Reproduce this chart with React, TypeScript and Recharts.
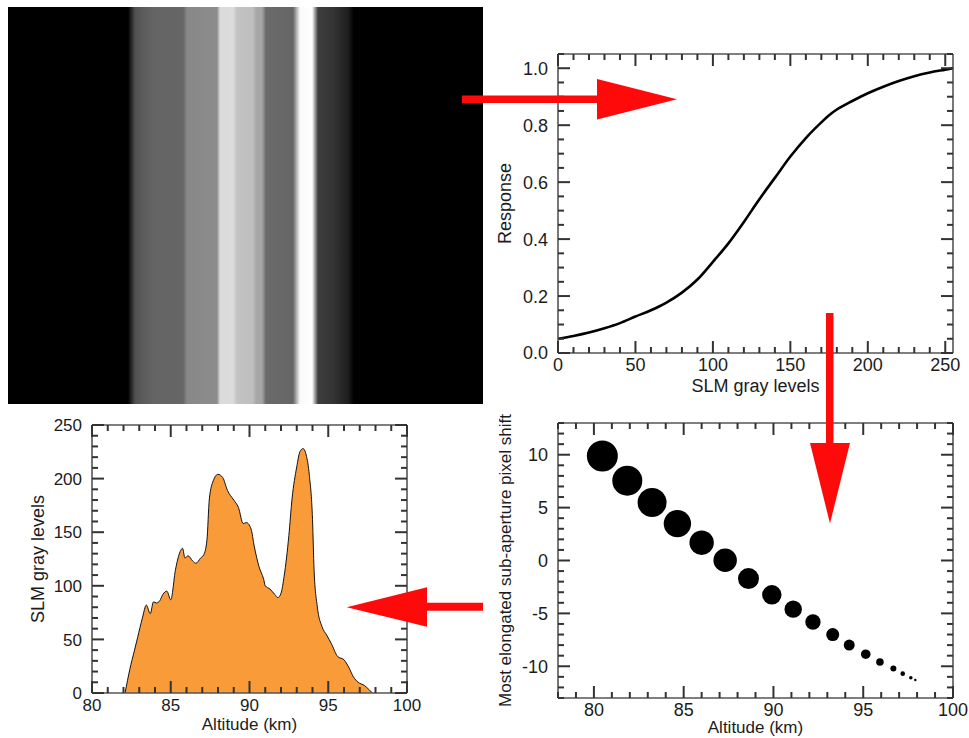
import { Area, ComposedChart, Label, Line, Scatter, XAxis, YAxis } from "recharts";

const PAGE_W = 969;
const PAGE_H = 738;
const FONT = '"Liberation Sans", Arial, Helvetica, sans-serif';
const INK = "#1c1c1c";
const FRAME = "#555";
const TICK = "#333";
const ARROW = "#ff0a0a";

// SLM pattern: column position (px across the 475 px frame) and gray level
const stripePos = [0, 120, 127, 135, 145, 175, 179, 209, 212, 225, 229, 245, 248, 254, 258, 285, 292, 304, 310, 325, 340, 346, 475];
const stripeGray = [0, 0, 80, 92, 100, 102, 136, 140, 218, 220, 195, 190, 168, 165, 106, 102, 250, 255, 62, 52, 30, 0, 0];

// SLM response curve
const grayLevels = [0, 10, 20, 30, 40, 50, 60, 70, 80, 90, 100, 110, 120, 125, 130, 140, 150, 160, 170, 175, 180, 190, 200, 210, 220, 230, 240, 250, 255];
const response = [0.05, 0.06, 0.072, 0.087, 0.105, 0.128, 0.15, 0.177, 0.212, 0.258, 0.32, 0.385, 0.46, 0.5, 0.54, 0.615, 0.69, 0.755, 0.81, 0.835, 0.855, 0.885, 0.912, 0.935, 0.955, 0.972, 0.985, 0.995, 1.0];

// SLM gray level profile vs altitude
const profileAltitude = [82.1, 82.4, 82.7, 82.9, 83.2, 83.45, 83.7, 83.9, 84.1, 84.3, 84.5, 84.75, 85.0, 85.3, 85.6, 85.75, 85.9, 86.1, 86.4, 86.6, 86.9, 87.1, 87.3, 87.45, 87.7, 88.0, 88.3, 88.6, 89.0, 89.3, 89.6, 89.8, 90.1, 90.3, 90.6, 90.9, 91.0, 91.3, 91.6, 91.8, 92.0, 92.2, 92.5, 92.7, 93.0, 93.2, 93.4, 93.6, 93.8, 94.0, 94.1, 94.3, 94.6, 94.9, 95.2, 95.6, 96.0, 96.3, 96.6, 96.9, 97.3, 97.6, 97.8];
const profileGray = [0, 22, 40, 52, 70, 82, 74, 85, 84, 86, 92, 95, 87, 115, 132, 135, 126, 128, 123, 121, 126, 129, 143, 181, 198, 204, 201, 189, 180, 173, 158, 159, 153, 137, 118, 106, 100, 97, 92, 89, 93, 109, 147, 181, 211, 225, 228, 222, 203, 162, 115, 81, 62, 54, 46, 34, 31, 24, 15, 10, 7, 3, 0];

// most elongated sub-aperture: altitude, pixel shift, spot elongation
const spotAltitude = [80.47, 81.86, 83.24, 84.65, 86.0, 87.31, 88.61, 89.91, 91.1, 92.2, 93.3, 94.22, 95.14, 95.93, 96.68, 97.2, 97.65, 97.9];
const spotShift = [9.88, 7.55, 5.49, 3.49, 1.68, 0.03, -1.71, -3.24, -4.6, -5.81, -7.0, -8.0, -8.86, -9.59, -10.22, -10.7, -11.08, -11.3];
const spotElongation = [15.5, 15, 14.5, 13.7, 12.2, 11.7, 10.5, 9.7, 8.7, 7.7, 6.5, 5.5, 4.8, 3.8, 3, 2.3, 1.8, 1.2];

const stripeData = [{ px: stripePos[0], v: 1 }, { px: stripePos[stripePos.length - 1], v: 1 }];
const responseData = grayLevels.map((level, i) => ({ level, response: response[i] }));
const profileData = profileAltitude.map((alt, i) => ({ alt, gray: profileGray[i] }));
const spotData = spotAltitude.map((alt, i) => ({ alt, shift: spotShift[i], elong: spotElongation[i] }));

const range = (a: number, b: number, step: number) => {
  const out: number[] = [];
  for (let v = a; v <= b + 1e-9; v += step) out.push(+v.toFixed(4));
  return out;
};
const isMultiple = (v: number, step: number) => Math.abs(v / step - Math.round(v / step)) < 1e-6;

type Rect = { left: number; top: number; right: number; bottom: number };
const IMAGE_RECT: Rect = { left: 8, top: 7, right: 483, bottom: 404 };
const RESPONSE_RECT: Rect = { left: 558, top: 54, right: 953, bottom: 353 };
const PROFILE_RECT: Rect = { left: 92, top: 425, right: 407, bottom: 693 };
const SPOT_RECT: Rect = { left: 558, top: 423, right: 953, bottom: 698 };

// axes take 1 px each (a zero sized axis is not drawn), so the margin gives that pixel back
const marginOf = (r: Rect, axis = 1) => ({
  left: r.left - axis,
  top: r.top - axis,
  right: PAGE_W - r.right - axis,
  bottom: PAGE_H - r.bottom - axis,
});
const layer: React.CSSProperties = { position: "absolute", left: 0, top: 0 };

function makeTickLabel(side: "bottom" | "left", major: number, fmt: (v: number) => string, fontSize: number, rect: Rect) {
  return function TickLabel(props: any) {
    const v = Number(props.payload?.value);
    if (!isMultiple(v, major)) return <g />;
    const x = Number(props.x);
    const y = Number(props.y);
    return side === "bottom" ? (
      <g>
        <text x={x} y={rect.bottom + 18} textAnchor="middle" fontSize={fontSize} fontFamily={FONT} fill={INK}>
          {fmt(v)}
        </text>
      </g>
    ) : (
      <g>
        <text x={rect.left - 10} y={y + fontSize * 0.36} textAnchor="end" fontSize={fontSize} fontFamily={FONT} fill={INK}>
          {fmt(v)}
        </text>
      </g>
    );
  };
}

type FrameOpts = {
  rect: Rect;
  xKey: string;
  xDomain: [number, number];
  yDomain: [number, number];
  xTicks: number[];
  yTicks: number[];
  xMajor: number;
  yMajor: number;
  xFmt: (v: number) => string;
  yFmt: (v: number) => string;
  tickSize: number;
  xTitle: string;
  yTitle: string;
  xGap: number;
  yGap: number;
  xTitleSize: number;
  yTitleSize: number;
};

function frameAxes(o: FrameOpts) {
  const axisLine = { stroke: FRAME, strokeWidth: 1.6 };
  const cx = (o.rect.left + o.rect.right) / 2;
  const cy = (o.rect.top + o.rect.bottom) / 2;
  const tx = o.rect.left - o.yGap;
  return [
    <XAxis
      key="xb"
      dataKey={o.xKey}
      type="number"
      domain={o.xDomain}
      ticks={o.xTicks}
      interval={0}
      height={1}
      tickSize={0}
      tickMargin={0}
      tickLine={false}
      axisLine={axisLine}
      tick={makeTickLabel("bottom", o.xMajor, o.xFmt, o.tickSize, o.rect)}
    >
      <Label
        content={() => (
          <text x={cx} y={o.rect.bottom + o.xGap} textAnchor="middle" dominantBaseline="central" fontSize={o.xTitleSize} fontFamily={FONT} fill={INK}>
            {o.xTitle}
          </text>
        )}
      />
    </XAxis>,
    <XAxis key="xt" xAxisId="top" orientation="top" type="number" domain={o.xDomain} height={1} tick={false} tickLine={false} axisLine={axisLine} />,
    <YAxis
      key="yl"
      type="number"
      domain={o.yDomain}
      ticks={o.yTicks}
      interval={0}
      width={1}
      tickSize={0}
      tickMargin={0}
      tickLine={false}
      axisLine={axisLine}
      tick={makeTickLabel("left", o.yMajor, o.yFmt, o.tickSize, o.rect)}
    >
      <Label
        content={() => (
          <text
            x={tx}
            y={cy}
            transform={`rotate(-90 ${tx} ${cy})`}
            textAnchor="middle"
            dominantBaseline="central"
            fontSize={o.yTitleSize}
            fontFamily={FONT}
            fill={INK}
          >
            {o.yTitle}
          </text>
        )}
      />
    </YAxis>,
    <YAxis key="yr" yAxisId="right" orientation="right" type="number" domain={o.yDomain} width={1} tick={false} tickLine={false} axisLine={axisLine} />,
  ];
}

// inward tick marks on the four sides of a frame (axis furniture, drawn on the overlay)
function FrameTicks({ o }: { o: FrameOpts }) {
  const { rect, xDomain, yDomain } = o;
  const px = (v: number) => rect.left + ((v - xDomain[0]) / (xDomain[1] - xDomain[0])) * (rect.right - rect.left);
  const py = (v: number) => rect.bottom - ((v - yDomain[0]) / (yDomain[1] - yDomain[0])) * (rect.bottom - rect.top);
  const marks: React.ReactNode[] = [];
  o.xTicks.forEach((v, i) => {
    const len = isMultiple(v, o.xMajor) ? 12 : 6;
    const x = px(v);
    marks.push(<line key={`b${i}`} x1={x} y1={rect.bottom} x2={x} y2={rect.bottom - len} stroke={TICK} strokeWidth={2} />);
    marks.push(<line key={`t${i}`} x1={x} y1={rect.top} x2={x} y2={rect.top + len} stroke={TICK} strokeWidth={2} />);
  });
  o.yTicks.forEach((v, i) => {
    const len = isMultiple(v, o.yMajor) ? 12 : 6;
    const y = py(v);
    marks.push(<line key={`l${i}`} x1={rect.left} y1={y} x2={rect.left + len} y2={y} stroke={TICK} strokeWidth={2} />);
    marks.push(<line key={`r${i}`} x1={rect.right} y1={y} x2={rect.right - len} y2={y} stroke={TICK} strokeWidth={2} />);
  });
  return <g>{marks}</g>;
}

function SpotDot(props: any) {
  const { cx, cy, payload } = props;
  if (cx == null || cy == null) return <g />;
  return (
    <g>
      <circle cx={cx} cy={cy} r={payload.elong} fill="#000" />
    </g>
  );
}

const responseFrame: FrameOpts = {
  rect: RESPONSE_RECT,
  xKey: "level",
  xDomain: [0, 255],
  yDomain: [0, 1.05],
  xTicks: range(0, 250, 10),
  yTicks: range(0, 1.05, 0.05),
  xMajor: 50,
  yMajor: 0.2,
  xFmt: (v) => String(v),
  yFmt: (v) => v.toFixed(1),
  tickSize: 18,
  xTitle: "SLM gray levels",
  yTitle: "Response",
  xGap: 33,
  yGap: 53,
  xTitleSize: 18,
  yTitleSize: 18,
};

const profileFrame: FrameOpts = {
  rect: PROFILE_RECT,
  xKey: "alt",
  xDomain: [80, 100],
  yDomain: [0, 250],
  xTicks: range(80, 100, 1),
  yTicks: range(0, 250, 10),
  xMajor: 5,
  yMajor: 50,
  xFmt: (v) => String(v),
  yFmt: (v) => String(v),
  tickSize: 17,
  xTitle: "Altitude (km)",
  yTitle: "SLM gray levels",
  xGap: 31,
  yGap: 54,
  xTitleSize: 17,
  yTitleSize: 18,
};

const spotFrame: FrameOpts = {
  rect: SPOT_RECT,
  xKey: "alt",
  xDomain: [78, 100],
  yDomain: [-13, 13],
  xTicks: range(78, 100, 1),
  yTicks: range(-13, 13, 1),
  xMajor: 5,
  yMajor: 5,
  xFmt: (v) => String(v),
  yFmt: (v) => String(v),
  tickSize: 18,
  xTitle: "Altitude (km)",
  yTitle: "Most elongated sub-aperture pixel shift",
  xGap: 29.5,
  yGap: 53,
  xTitleSize: 17,
  yTitleSize: 17,
};

function Overlay() {
  return (
    <svg width={PAGE_W} height={PAGE_H} style={{ ...layer, pointerEvents: "none" }}>
      <FrameTicks o={responseFrame} />
      <FrameTicks o={profileFrame} />
      <FrameTicks o={spotFrame} />
      <polygon points="462,95.6 597,95.6 597,79 677,99.3 597,119.6 597,103 462,103" fill={ARROW} />
      <polygon points="826,313 833.5,313 833.5,443 850,443 830,523.5 810,443 826,443" fill={ARROW} />
      <polygon points="483,602.8 427,602.8 427,587.3 346.7,607.2 427,626.7 427,610.7 483,610.7" fill={ARROW} />
    </svg>
  );
}

export default function App() {
  const pct = (p: number) => `${((p - stripePos[0]) / (stripePos[stripePos.length - 1] - stripePos[0])) * 100}%`;
  return (
    <div style={{ position: "absolute", left: 0, top: 0, width: PAGE_W, height: PAGE_H, background: "#fff", overflow: "hidden" }}>
      {/* SLM pattern */}
      <ComposedChart width={PAGE_W} height={PAGE_H} data={stripeData} margin={marginOf(IMAGE_RECT, 0)} style={layer}>
        <defs>
          <linearGradient id="slmStripes" x1="0" y1="0" x2="1" y2="0">
            {stripePos.map((p, i) => (
              <stop key={i} offset={pct(p)} stopColor={`rgb(${stripeGray[i]},${stripeGray[i]},${stripeGray[i]})`} />
            ))}
          </linearGradient>
        </defs>
        <XAxis dataKey="px" type="number" domain={[stripePos[0], stripePos[stripePos.length - 1]]} hide />
        <YAxis type="number" domain={[0, 1]} hide />
        <Area dataKey="v" type="linear" stroke="none" fill="url(#slmStripes)" fillOpacity={1} isAnimationActive={false} />
      </ComposedChart>

      {/* response curve */}
      <ComposedChart width={PAGE_W} height={PAGE_H} data={responseData} margin={marginOf(RESPONSE_RECT)} style={layer}>
        {frameAxes(responseFrame)}
        <Line dataKey="response" type="monotone" stroke="#000" strokeWidth={2.6} dot={false} isAnimationActive={false} />
      </ComposedChart>

      {/* gray level profile */}
      <ComposedChart width={PAGE_W} height={PAGE_H} data={profileData} margin={marginOf(PROFILE_RECT)} style={layer}>
        {frameAxes(profileFrame)}
        <Area dataKey="gray" type="monotone" stroke="#111" strokeWidth={1} fill="#F99B38" fillOpacity={1} isAnimationActive={false} />
      </ComposedChart>

      {/* pixel shift vs altitude */}
      <ComposedChart width={PAGE_W} height={PAGE_H} data={spotData} margin={marginOf(SPOT_RECT)} style={layer}>
        {frameAxes(spotFrame)}
        <Scatter dataKey="shift" shape={SpotDot} isAnimationActive={false} />
      </ComposedChart>

      <Overlay />
    </div>
  );
}
